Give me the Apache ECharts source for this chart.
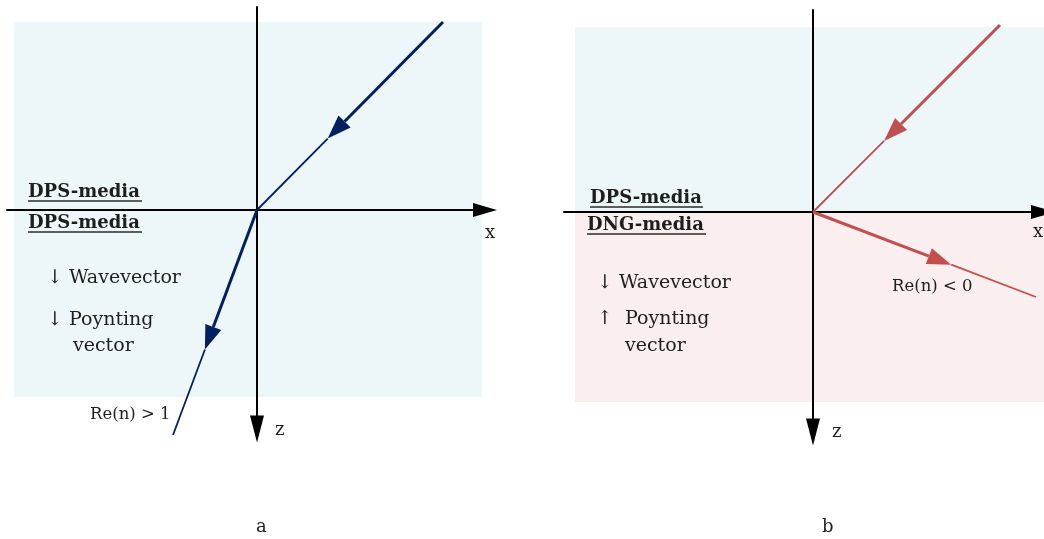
<!DOCTYPE html>
<html>
<head>
<meta charset="utf-8">
<script src="https://cdn.jsdelivr.net/npm/echarts@6/dist/echarts.min.js"></script>
<style>html,body{margin:0;padding:0;background:#fff}#c{width:1044px;height:539px}</style>
</head>
<body>
<div id="c"></div>
<script>
// ---- data (diagram units, origin at the interface crossing, z positive downward) ----
const incidentA = [[3.72, -3.76], [0, 0]];
const refractedA = [[0, 0], [-1.68, 4.5]];
const incidentB = [[3.74, -3.74], [0, 0]];
const refractedB = [[0, 0], [4.46, 1.7]];
const arrowAt = 0.62; // fraction along each ray where the arrowhead tip sits
const mediaA = [[-4.86, -3.76, 4.5, 3.74, 0]];
const mediaB = [[-4.76, -3.7, 4.62, 0, 0], [-4.76, 0, 4.62, 3.8, 1]];
const mediaColors = ['#edf7fa', '#fbeeee'];
const rangeA = { x: [-5, 4.56], z: [-4.06, 4.38] };
const rangeB = { x: [-4.98, 4.6], z: [-4.04, 4.4] };

const FONT = 'DejaVu Serif';
const TXT = '#1e1e1e';

function axisPair(idx, range) {
  const common = { type: 'value', gridIndex: idx, splitLine: { show: false }, axisTick: { show: false }, axisLabel: { show: false }, z: 5 };
  return {
    x: Object.assign({}, common, { min: range.x[0], max: range.x[1],
      axisLine: { show: true, onZero: true, symbol: ['none', 'triangle'], symbolSize: [14, 24], lineStyle: { color: '#000', width: 2 } } }),
    y: Object.assign({}, common, { min: range.z[0], max: range.z[1], inverse: true,
      axisLine: { show: true, onZero: true, symbol: ['triangle', 'none'], symbolSize: [14, 27], lineStyle: { color: '#000', width: 2 } } })
  };
}
const axA = axisPair(0, rangeA), axB = axisPair(1, rangeB);

function mediaSeries(idx, data) {
  return {
    type: 'custom', xAxisIndex: idx, yAxisIndex: idx, z: 1, clip: false, silent: true,
    data: data,
    renderItem: function (params, api) {
      const p1 = api.coord([api.value(0), api.value(1)]);
      const p2 = api.coord([api.value(2), api.value(3)]);
      return { type: 'rect', shape: { x: Math.min(p1[0], p2[0]), y: Math.min(p1[1], p2[1]), width: Math.abs(p2[0] - p1[0]), height: Math.abs(p2[1] - p1[1]) },
        style: { fill: mediaColors[api.value(4)] } };
    }
  };
}

function raySeries(idx, pts, color) {
  return {
    type: 'custom', xAxisIndex: idx, yAxisIndex: idx, z: 10, clip: false, silent: true,
    data: [[pts[0][0], pts[0][1], pts[1][0], pts[1][1]]],
    renderItem: function (params, api) {
      const p1 = api.coord([api.value(0), api.value(1)]);
      const p2 = api.coord([api.value(2), api.value(3)]);
      const dx = p2[0] - p1[0], dy = p2[1] - p1[1];
      const len = Math.sqrt(dx * dx + dy * dy);
      const ux = dx / len, uy = dy / len;
      const tip = [p1[0] + dx * arrowAt, p1[1] + dy * arrowAt];
      const L = 24, W = 8.5;
      const base = [tip[0] - ux * L, tip[1] - uy * L];
      const left = [base[0] - uy * W, base[1] + ux * W];
      const right = [base[0] + uy * W, base[1] - ux * W];
      return { type: 'group', children: [
        { type: 'line', shape: { x1: p1[0], y1: p1[1], x2: base[0], y2: base[1] }, style: { stroke: color, lineWidth: 3 } },
        { type: 'line', shape: { x1: tip[0], y1: tip[1], x2: p2[0], y2: p2[1] }, style: { stroke: color, lineWidth: 1.8 } },
        { type: 'polygon', shape: { points: [tip, left, right] }, style: { fill: color } }
      ] };
    }
  };
}

// y is the text baseline
function txt(x, y, s, size, bold) {
  return { type: 'text', x: x, y: y - Math.round(size * 0.82), z: 20, style: { text: s, fill: TXT, font: (bold ? 'bold ' : '') + size + 'px "' + FONT + '"' } };
}
function uline(x1, x2, y) {
  return { type: 'line', z: 20, shape: { x1: x1, y1: y, x2: x2, y2: y }, style: { stroke: '#2a2a2a', lineWidth: 1.5 } };
}

const chart = echarts.init(document.getElementById('c'), null, { renderer: 'canvas' });
chart.setOption({
  animation: false,
  backgroundColor: '#fff',
  grid: [
    { left: 7, top: 7, width: 478, height: 422 },
    { left: 564, top: 10, width: 479, height: 422 }
  ],
  xAxis: [axA.x, axB.x],
  yAxis: [axA.y, axB.y],
  series: [
    mediaSeries(0, mediaA),
    mediaSeries(1, mediaB),
    raySeries(0, incidentA, '#002060'),
    raySeries(0, refractedA, '#002060'),
    raySeries(1, incidentB, '#c0504d'),
    raySeries(1, refractedB, '#c0504d')
  ],
  graphic: [
    txt(28, 198, 'DPS-media', 18, true), uline(28, 142, 201),
    txt(28, 229, 'DPS-media', 18, true), uline(28, 142, 232),
    txt(47, 285, '↓ Wavevector', 19),
    txt(47, 327, '↓ Poynting', 19),
    txt(73, 353, 'vector', 19),
    txt(90, 420, 'Re(n) > 1', 16.5),
    txt(485, 239, 'x', 18),
    txt(275, 436, 'z', 18),
    txt(256, 533, 'a', 18),
    txt(590, 204, 'DPS-media', 18, true), uline(590, 703, 207),
    txt(587, 231, 'DNG-media', 18, true), uline(587, 706, 234),
    txt(597, 290, '↓ Wavevector', 19),
    txt(597, 326, '↑  Poynting', 19),
    txt(625, 353, 'vector', 19),
    txt(892, 292, 'Re(n) < 0', 16.5),
    txt(1033, 238, 'x', 18),
    txt(832, 438, 'z', 18),
    txt(822, 533, 'b', 18)
  ]
});
</script>
</body>
</html>
